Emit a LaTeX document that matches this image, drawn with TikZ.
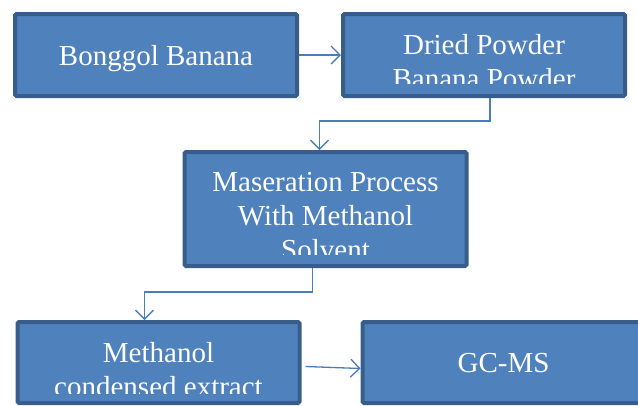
\documentclass[tikz,border=0pt]{standalone}
\usepackage{fontspec}
\setmainfont{Liberation Serif}
\newfontfamily\boxfont{Liberation Serif}
\usetikzlibrary{positioning,arrows.meta}
\definecolor{boxfill}{HTML}{4F81BD}
\definecolor{boxline}{HTML}{385D8A}
\definecolor{linkblue}{HTML}{4A7EBB}

\begin{document}
\begin{tikzpicture}[x=1pt,y=1pt]
\tikzstyle{stage} = [rectangle, rounded corners=1.5pt, minimum width=282pt, minimum height=82pt, line width=4pt, draw=boxline, fill=boxfill, text=white, font=\boxfont\fontsize{29}{34}\selectfont, align=center, text depth=0pt]
\tikzstyle{tallstage} = [stage, minimum height=114pt]
\tikzstyle{stagetext} = [inner sep=0pt, text=white, font=\boxfont\fontsize{29}{34}\selectfont, align=center]
\tikzstyle{arrow} = [line width=1.3pt, draw=linkblue, -{Straight Barb[length=9pt,width=18pt]}]

\useasboundingbox (0,0) rectangle (638,-405);

\node (bonggol) [stage] at (156,-55) {Bonggol Banana};
\node (dried) [stage, right=42pt of bonggol] {};
\node (macer) [tallstage, below=52pt of dried, xshift=-158.5pt] {};
\node (extract) [stage, minimum height=81pt, below=52pt of macer, xshift=-167pt] {};
\node (gcms) [stage, minimum height=81pt, right=59pt of extract] {GC-MS};

% texts cut off at the bottom of their boxes
\begin{scope}
\clip (dried.north west) rectangle ([yshift=15pt]dried.south east);
\node (driedtxt) [stagetext, below=22pt of dried.north] {Dried Powder\\Banana Powder};
\end{scope}
\begin{scope}
\clip (macer.north west) rectangle ([yshift=14pt]macer.south east);
\node (macertxt) [stagetext, below=22pt of macer.north] {Maseration Process\\With Methanol\\Solvent};
\end{scope}
\begin{scope}
\clip (extract.north west) rectangle ([yshift=12pt]extract.south east);
\node (extracttxt) [stagetext, below=22pt of extract.north] {Methanol\\condensed extract};
\end{scope}

\draw [arrow] (bonggol) -- (dried);
\draw [arrow] ([xshift=6pt]dried.south) -- ++(0,-23pt) -| ([xshift=-6pt]macer.north);
\draw [arrow] ([xshift=-13pt]macer.south) -- ++(0,-24pt) -| ([xshift=-14pt]extract.north);
\draw [arrow] ([xshift=4pt,yshift=-4pt]extract.east) -- ([yshift=-6pt]gcms.west);
\end{tikzpicture}
\end{document}
